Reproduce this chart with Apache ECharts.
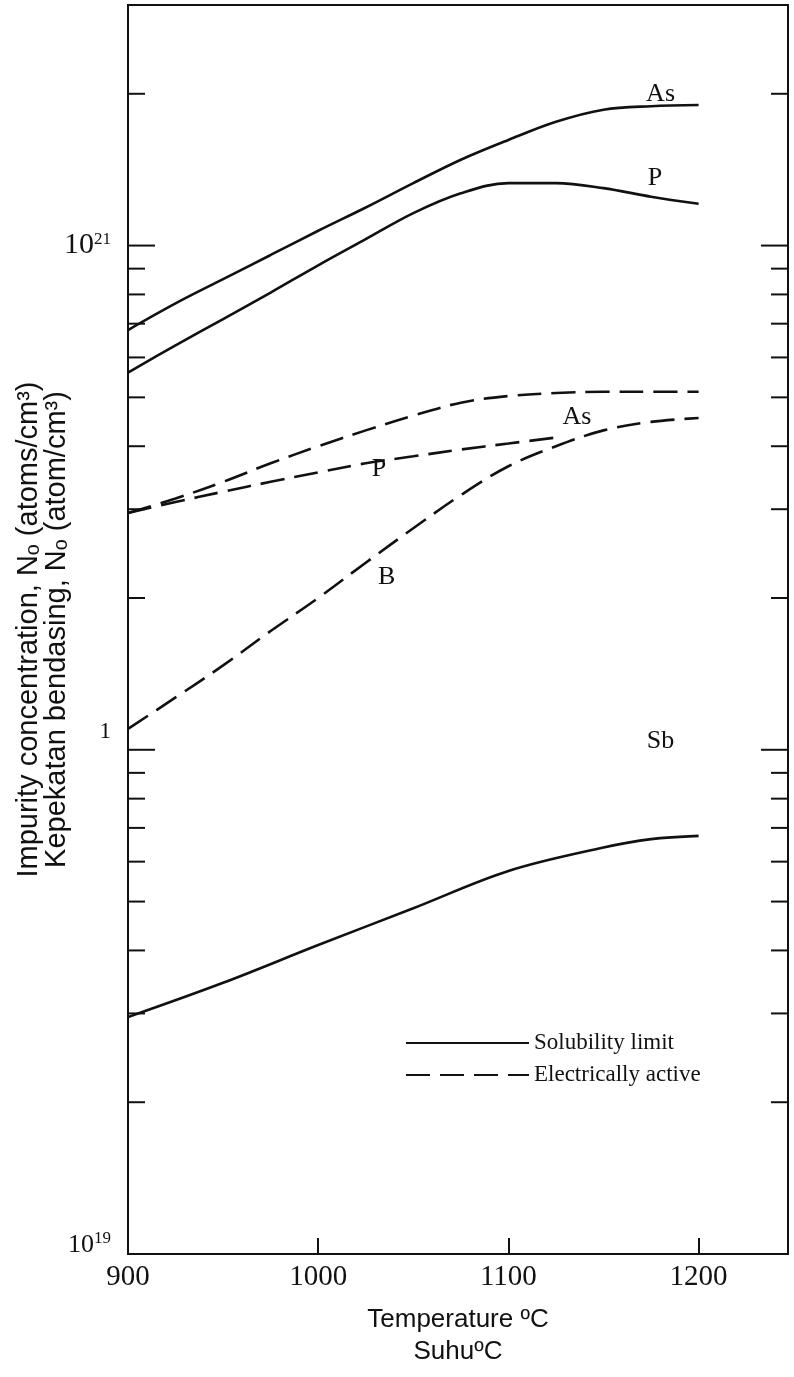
<!DOCTYPE html>
<html><head><meta charset="utf-8">
<script src="https://cdn.jsdelivr.net/npm/echarts@6/dist/echarts.min.js"></script>
<style>html,body{margin:0;padding:0;background:#fff}#c{width:794px;height:1377px}</style>
</head><body><div id="c"></div>
<script>
// ---- data ----
const temps = [900, 925, 950, 975, 1000, 1025, 1050, 1075, 1100, 1125, 1150, 1175, 1200];
const asSolubility = [6.8e20, 7.68e20, 8.58e20, 9.58e20, 1.07e21, 1.19e21, 1.33e21, 1.48e21, 1.62e21, 1.76e21, 1.86e21, 1.89e21, 1.9e21];
const pSolubility  = [5.6e20, 6.34e20, 7.15e20, 8.07e20, 9.14e20, 1.03e21, 1.16e21, 1.27e21, 1.33e21, 1.33e21, 1.30e21, 1.25e21, 1.21e21];
const asActive     = [2.95e20, 3.15e20, 3.4e20, 3.7e20, 4.0e20, 4.3e20, 4.6e20, 4.88e20, 5.03e20, 5.1e20, 5.13e20, 5.13e20, 5.13e20];
const pActiveT     = [900, 925, 950, 975, 1000, 1025, 1050, 1075, 1100, 1127];
const pActive      = [2.95e20, 3.1e20, 3.25e20, 3.4e20, 3.55e20, 3.7e20, 3.82e20, 3.94e20, 4.05e20, 4.17e20];
const bActive      = [1.1e20, 1.27e20, 1.47e20, 1.72e20, 2.0e20, 2.35e20, 2.75e20, 3.2e20, 3.65e20, 4.0e20, 4.3e20, 4.47e20, 4.55e20];
const sbT          = [900, 950, 1000, 1050, 1100, 1150, 1175, 1200];
const sbSolubility = [2.95e19, 3.45e19, 4.1e19, 4.85e19, 5.75e19, 6.4e19, 6.65e19, 6.75e19];
const curveLabels  = ['As', 'P', 'As', 'P', 'B', 'Sb'];
const labelT       = [1180, 1177, 1136, 1032, 1036, 1180];
const labelV       = [2.0e21, 1.36e21, 4.56e20, 3.6e20, 2.2e20, 1.04e20];
const xTicks       = [900, 1000, 1100, 1200];
const yMinorTicks  = [2e19,3e19,4e19,5e19,6e19,7e19,8e19,9e19,2e20,3e20,4e20,5e20,6e20,7e20,8e20,9e20,2e21];
const yMajorTicks  = [1e20, 1e21];
const X_MIN = 900, X_MAX = 1247, Y_MIN = 1e19, Y_MAX = 3e21;

// ---- chart ----
const serif = '"Liberation Serif","DejaVu Serif",serif';
const sans = '"Liberation Sans","DejaVu Sans",sans-serif';
const ink = '#111';
const pairs = (xs, ys) => xs.map((x, i) => [x, ys[i]]);
const solid = { color: ink, width: 2.6, type: 'solid' };
const dashed = { color: ink, width: 2.6, type: [24, 10] };
function curve(name, xs, ys, style) {
  return { type: 'line', name, data: pairs(xs, ys), smooth: 0.35, symbol: 'none', showSymbol: false,
    lineStyle: style, itemStyle: { color: ink }, silent: true, z: 3 };
}
const tickData = yMinorTicks.map(v => [X_MIN, v, 0]).concat(yMajorTicks.map(v => [X_MIN, v, 1]));

const chart = echarts.init(document.getElementById('c'), null, { renderer: 'canvas' });
chart.setOption({
  backgroundColor: '#fff',
  animation: false,
  grid: { left: 128, right: 6, top: 5, bottom: 123, outerBoundsMode: 'none', containLabel: false,
    show: true, borderColor: ink, borderWidth: 2, backgroundColor: 'transparent' },
  legend: {
    data: ['Solubility limit', 'Electrically active'],
    orient: 'vertical', left: 405, top: 1031, padding: 0, itemWidth: 123, itemHeight: 3, itemGap: 8,
    itemStyle: { opacity: 0 },
    textStyle: { fontFamily: serif, fontSize: 23, color: ink, lineHeight: 24 },
    selectedMode: false
  },
  xAxis: {
    type: 'value', min: X_MIN, max: X_MAX, interval: 100,
    axisLine: { show: false },
    axisTick: { show: true, inside: true, length: 16, lineStyle: { color: ink, width: 2 } },
    splitLine: { show: false },
    axisLabel: { margin: 9, fontFamily: serif, fontSize: 29, color: ink, showMaxLabel: false,
      formatter: v => (xTicks.indexOf(v) >= 0 ? String(v) : '') },
    name: 'Temperature ºC\nSuhuºC', nameLocation: 'middle', nameGap: 50, nameMoveOverlap: false,
    nameTextStyle: { fontFamily: sans, fontSize: 26, color: ink, lineHeight: 32 }
  },
  yAxis: {
    type: 'log', logBase: 10, min: Y_MIN, max: Y_MAX,
    axisLine: { show: false }, axisTick: { show: false }, splitLine: { show: false },
    axisLabel: {
      margin: 17, color: ink,
      formatter: v => {
        const e = Math.log10(v), r = Math.round(e);
        if (Math.abs(e - r) > 1e-6) return '';
        if (r === 20) return '{one|1}\n{g2| }';
        if (r === 19) return '{b19|10}{s|19}\n{g1| }';
        return '{b|10}{s|' + r + '}';
      },
      rich: {
        b: { fontFamily: serif, fontSize: 30, lineHeight: 30, color: ink },
        b19: { fontFamily: serif, fontSize: 26, lineHeight: 30, color: ink },
        s: { fontFamily: serif, fontSize: 17, lineHeight: 14, verticalAlign: 'top', color: ink },
        one: { fontFamily: serif, fontSize: 23, lineHeight: 26, color: ink },
        g1: { fontSize: 2, lineHeight: 18 },
        g2: { fontSize: 2, lineHeight: 36 }
      }
    },
    name: 'Impurity concentration, Nₒ (atoms/cm³)\nKepekatan bendasing, Nₒ (atom/cm³)',
    nameLocation: 'middle', nameRotate: 90, nameGap: 57, nameMoveOverlap: false,
    nameTextStyle: { fontFamily: sans, fontSize: 29, color: ink, lineHeight: 28 }
  },
  series: [
    curve('Solubility limit', temps, asSolubility, solid),
    curve('Solubility limit', temps, pSolubility, solid),
    curve('Electrically active', temps, asActive, dashed),
    curve('Electrically active', pActiveT, pActive, dashed),
    curve('Electrically active', temps, bActive, dashed),
    curve('Solubility limit', sbT, sbSolubility, solid),
    {
      type: 'scatter', name: 'labels', silent: true, symbolSize: 0, z: 5, itemStyle: { color: ink, opacity: 1 },
      data: curveLabels.map((n, i) => ({ name: n, value: [labelT[i], labelV[i]] })),
      label: { show: true, position: 'inside', formatter: p => p.name, fontFamily: serif, fontSize: 26,
        color: ink, textBorderWidth: 0, opacity: 1 }
    },
    {
      type: 'custom', name: 'yticks', silent: true, clip: false, z: 4,
      encode: { x: 0, y: 1 },
      data: tickData,
      renderItem: (params, api) => {
        const v = api.value(1), major = api.value(2);
        const pl = api.coord([X_MIN, v]), pr = api.coord([X_MAX, v]);
        const len = major ? 27 : 17;
        const st = { stroke: ink, lineWidth: 2 };
        return { type: 'group', children: [
          { type: 'line', shape: { x1: pl[0], y1: pl[1], x2: pl[0] + len, y2: pl[1] }, style: st },
          { type: 'line', shape: { x1: pr[0] - len, y1: pr[1], x2: pr[0], y2: pr[1] }, style: st }
        ] };
      }
    }
  ]
});
</script>
</body></html>
